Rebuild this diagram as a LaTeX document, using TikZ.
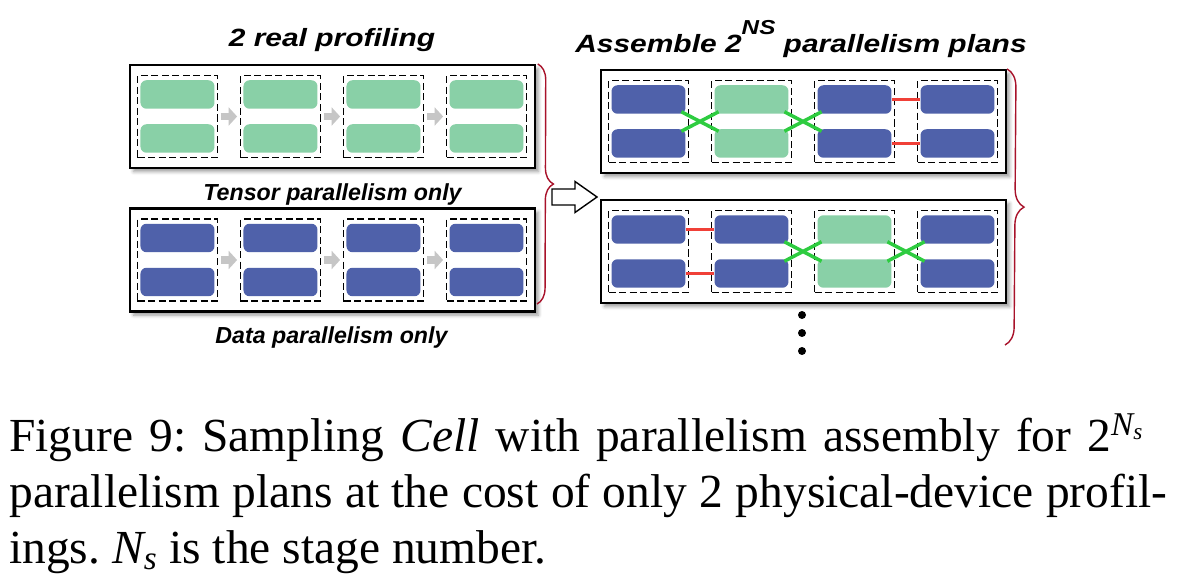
\documentclass[tikz,border=0pt]{standalone}
\usepackage{fontspec}
\setmainfont{Liberation Serif}
\setsansfont{Liberation Sans}
\newfontfamily\titlefont[FakeStretch=1.2]{Liberation Sans}
\usetikzlibrary{decorations.pathreplacing, calc, arrows.meta, positioning, shadows.blur}
\definecolor{dpblue}{RGB}{79,97,170}
\definecolor{tpgreen}{RGB}{137,208,167}
\definecolor{swapgreen}{RGB}{46,204,64}
\definecolor{keepred}{RGB}{240,64,56}
\definecolor{bracered}{RGB}{168,18,42}
\tikzset{
  panel/.style={
    rectangle, draw=black, line width=1.2pt, fill=white,
    minimum width=8.1cm, minimum height=2.06cm,
    blur shadow={shadow xshift=2pt, shadow yshift=-2pt, shadow blur radius=2pt, shadow opacity=40}
  },
  stagebox/.style={
    rectangle, draw=black, line width=1pt, dash pattern=on 4pt off 2pt,
    minimum width=1.6cm, minimum height=1.64cm
  },
  gpu/.style={
    rectangle, rounded corners=0.12cm, minimum width=1.48cm, minimum height=0.57cm
  },
  title/.style={font=\titlefont\bfseries\itshape\fontsize{14.2pt}{17pt}\selectfont, inner sep=0pt},
  sublabel/.style={font=\sffamily\bfseries\itshape\fontsize{13.2pt}{16pt}\selectfont, inner sep=0pt},
  caption/.style={font=\fontsize{27pt}{32pt}\selectfont, inner sep=0pt, anchor=base west},
  flow/.style={
    -{Triangle[length=0.17cm,width=0.36cm]}, line width=0.15cm, color=gray!45,
    shorten <=0.05cm, shorten >=0.05cm
  },
  swap/.style={line width=2pt, swapgreen, shorten <=-0.1cm, shorten >=-0.1cm},
  keep/.style={line width=2pt, keepred},
  curly/.style={decorate, decoration={brace, amplitude=#1}, draw=bracered, line width=0.8pt},
  bigarrow/.style={draw=black, line width=0.8pt, fill=white, line join=miter},
  dot/.style={circle, fill=black, minimum size=0.16cm, inner sep=0pt}
}
% one row of four stages with two devices each
\newcommand{\stagerow}[3]{%
  \foreach \col [count=\i] in {#3} {
    \node[stagebox] (#1-\i) at ($(#2.west)+({48.5+103*(\i-1)},0)$) {};
    \node[gpu, fill=\col] (#1-\i-t) at ($(#1-\i)+(0,-22)$) {};
    \node[gpu, fill=\col] (#1-\i-b) at ($(#1-\i)+(0,22)$) {};
  }%
}

\begin{document}
\frenchspacing
\begin{tikzpicture}[x=0.02cm, y=-0.02cm]
  \useasboundingbox (0,0) rectangle (1189,577);

  % the two real profilings
  \node[title] (proftitle) at (332,40) {2 real profiling};
  \node[panel] (tp) at (332.5,116.5) {};
  \stagerow{tp}{tp}{tpgreen,tpgreen,tpgreen,tpgreen}
  \node[sublabel] (tplabel) at (332.5,194.5) {Tensor parallelism only};

  \node[panel] (dp) at (332.5,260) {};
  \stagerow{dp}{dp}{dpblue,dpblue,dpblue,dpblue}
  \node[sublabel] (dplabel) at (331.5,338) {Data parallelism only};

  \foreach \i/\j in {1/2,2/3,3/4} {
    \draw[flow] (tp-\i) -- (tp-\j);
    \draw[flow] (dp-\i) -- (dp-\j);
  }

  % assembled plans
  \node[title, anchor=base] (asmtitle) at (801,53)
    {Assemble 2\raisebox{0.36cm}{\fontsize{11.5pt}{13pt}\selectfont NS} parallelism plans};
  \node[panel] (pa) at (803.5,121.5) {};
  \stagerow{pa}{pa}{dpblue,tpgreen,dpblue,dpblue}
  \node[panel] (pb) at (803.5,251.5) {};
  \stagerow{pb}{pb}{dpblue,dpblue,tpgreen,dpblue}

  \foreach \p/\i/\j in {pa/1/2, pa/2/3, pb/2/3, pb/3/4} {
    \draw[swap] (\p-\i-t.south east) -- (\p-\j-b.north west);
    \draw[swap] (\p-\i-b.north east) -- (\p-\j-t.south west);
  }
  \foreach \p/\i/\j in {pa/3/4, pb/1/2} {
    \draw[keep] (\p-\i-t) -- (\p-\j-t);
    \draw[keep] (\p-\i-b) -- (\p-\j-b);
  }

  \foreach \k [count=\n] in {315,333,351}
    \node[dot] (more\n) at (802,\k) {};

  % braces and the assembly arrow
  \coordinate (profend) at (537,304);
  \coordinate (plansend) at (1005,345);
  \draw[curly=0.32cm] ([xshift=1pt]tp.north east) -- (profend);
  \draw[curly=0.36cm] (pa.north east) -- (plansend);
  \coordinate (assemble) at (552,197);
  \draw[bigarrow] (assemble) ++(0,-8) -- ++(23,0) -- ++(0,-7.5) -- ++(22,15.5)
    -- ++(-22,15.5) -- ++(0,-7.5) -- ++(-23,0) -- cycle;

  % caption
  \node[caption] (capa) at (9,451) {\makebox[22.7cm][s]{Figure 9: Sampling \textit{Cell} with parallelism assembly for 2\textsuperscript{\textit{N\textsubscript{s}}}}};
  \node[caption] (capb) at (9,507) {\makebox[23.16cm][s]{parallelism plans at the cost of only 2 physical-device profil-}};
  \node[caption] (capc) at (9,563) {ings. \textit{N\textsubscript{s}} is the stage number.};
\end{tikzpicture}
\end{document}
